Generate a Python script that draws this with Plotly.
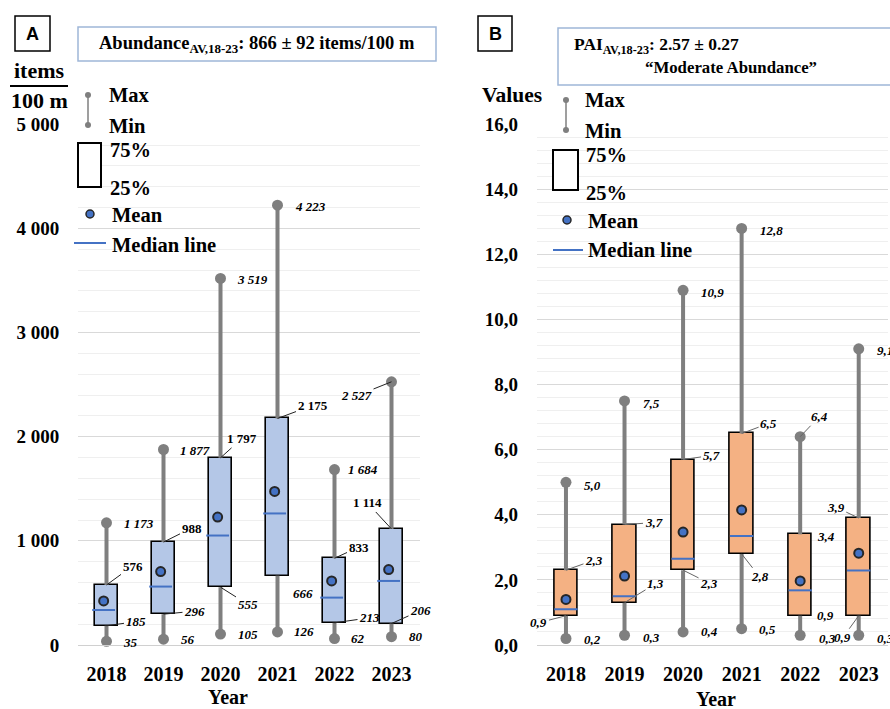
import plotly.graph_objects as go

# ---------------- data ----------------
years = ["2018", "2019", "2020", "2021", "2022", "2023"]

ab_min = [35, 56, 105, 126, 62, 80]
ab_q1 = [185, 296, 555, 666, 213, 206]
ab_median = [336, 561, 1051, 1263, 455, 615]
ab_mean = [423, 705, 1228, 1474, 615, 724]
ab_q3 = [576, 988, 1797, 2175, 833, 1114]
ab_max = [1173, 1877, 3519, 4223, 1684, 2527]

pai_min = [0.2, 0.3, 0.4, 0.5, 0.3, 0.3]
pai_q1 = [0.9, 1.3, 2.3, 2.8, 0.9, 0.9]
pai_median = [1.10, 1.50, 2.65, 3.35, 1.68, 2.29]
pai_mean = [1.40, 2.12, 3.47, 4.15, 1.97, 2.82]
pai_q3 = [2.3, 3.7, 5.7, 6.5, 3.4, 3.9]
pai_max = [5.0, 7.5, 10.9, 12.8, 6.4, 9.1]

ab_tickvals = [0, 1000, 2000, 3000, 4000, 5000]
ab_ticktext = ["0", "1 000", "2 000", "3 000", "4 000", "5 000"]
pai_tickvals = [0, 2, 4, 6, 8, 10, 12, 14, 16]
pai_ticktext = ["0,0", "2,0", "4,0", "6,0", "8,0", "10,0", "12,0", "14,0", "16,0"]

# ---------------- label layout (pixel offsets) ----------------
# (leader?, dx, dy) per year for keys max, q3, q1, min ; dy screen-down positive
ab_lab = {
    "max": [(0, 15, 1), (0, 14, 1), (0, 14, 1), (0, 15, 1), (0, 11, 0), (1, -35, 14)],
    "q3": [(1, 26, -19), (1, 28, -14), (1, 21, -19), (1, 35, -13), (1, 24, -11), (1, -24, -26)],
    "q1": [(1, 29, -4), (1, 31, -3), (1, 27, 17), (0, 13, 18), (1, 35, -5), (1, 29, -13)],
    "min": [(0, 14, 1), (0, 15, 0), (0, 15, 0), (0, 14, 0), (0, 14, 0), (0, 15, 0)],
}
pai_lab = {
    "max": [(0, 16, 3), (0, 16, 3), (0, 16, 2), (0, 16, 2), (1, 19, -20), (0, 16, 2)],
    "q3": [(1, 28, -10), (1, 29, -2), (1, 28, -4), (1, 27, -10), (0, 15, 2), (1, -23, -11)],
    "q1": [(1, -27, 7), (1, 31, -19), (1, 26, 13), (1, 18, 23), (0, 15, 0), (1, -16, 22)],
    "min": [(0, 16, 1), (0, 16, 2), (0, 16, 0), (0, 15, 1), (0, 17, 3), (0, 16, 3)],
}

W, H = 890, 709
SERIF = "Liberation Serif"
GRAY = "#7f7f7f"
BLUE = "#4472C4"


def px(x):
    return x / W


def py(y):
    return 1 - y / H


def fmt_ab(v):
    return f"{v:,}".replace(",", " ")


def fmt_pai(v):
    return f"{v:.1f}".replace(".", ",")


fig = go.Figure()

panels = [
    dict(xa="x", ya="y", mn=ab_min, q1=ab_q1, med=ab_median, mean=ab_mean, q3=ab_q3, mx=ab_max,
         fill="#B4C7E7", off=-0.05, lab=ab_lab, fmt=fmt_ab, q3_italic=False, leadcol="#222222"),
    dict(xa="x2", ya="y2", mn=pai_min, q1=pai_q1, med=pai_median, mean=pai_mean, q3=pai_q3, mx=pai_max,
         fill="#F4B183", off=0.0, lab=pai_lab, fmt=fmt_pai, q3_italic=True, leadcol="#666666"),
]

annotations = []
for p in panels:
    idx = list(range(len(years)))
    wx, wy = [], []
    for i in idx:
        wx += [i, i, None, i, i, None]
        wy += [p["mn"][i], p["q1"][i], None, p["q3"][i], p["mx"][i], None]
    fig.add_trace(go.Scatter(x=wx, y=wy, mode="lines", line=dict(color=GRAY, width=4),
                             xaxis=p["xa"], yaxis=p["ya"], hoverinfo="skip", showlegend=False))
    fig.add_trace(go.Scatter(x=idx + idx, y=p["mn"] + p["mx"], mode="markers",
                             marker=dict(color=GRAY, size=11), cliponaxis=False,
                             xaxis=p["xa"], yaxis=p["ya"], showlegend=False))
    fig.add_trace(go.Bar(x=idx, y=[b - a for a, b in zip(p["q1"], p["q3"])], base=p["q1"], width=0.4,
                         marker=dict(color=p["fill"], line=dict(color="black", width=1.6)),
                         xaxis=p["xa"], yaxis=p["ya"], showlegend=False))
    mx_, my_ = [], []
    for i in idx:
        mx_ += [i - 0.2 + p["off"], i + 0.2 + p["off"], None]
        my_ += [p["med"][i], p["med"][i], None]
    fig.add_trace(go.Scatter(x=mx_, y=my_, mode="lines", line=dict(color=BLUE, width=2),
                             xaxis=p["xa"], yaxis=p["ya"], showlegend=False))
    fig.add_trace(go.Scatter(x=[i + p["off"] for i in idx], y=p["mean"], mode="markers",
                             marker=dict(color=BLUE, size=9, line=dict(color="#262626", width=2)),
                             xaxis=p["xa"], yaxis=p["ya"], showlegend=False))
    # value labels
    for key in ["max", "q3", "q1", "min"]:
        vals = {"max": p["mx"], "q3": p["q3"], "q1": p["q1"], "min": p["mn"]}[key]
        italic = key != "q3" or p["q3_italic"]
        for i in idx:
            lead, dx, dy = p["lab"][key][i]
            font = dict(family=SERIF, size=13, color="black", weight="bold",
                        style="italic" if italic else "normal")
            if lead:
                annotations.append(dict(x=i, y=vals[i], xref=p["xa"], yref=p["ya"], text=p["fmt"](vals[i]),
                                        showarrow=True, arrowhead=0, arrowwidth=1, arrowcolor=p["leadcol"],
                                        ax=dx, ay=dy, standoff=0, font=font))
            else:
                annotations.append(dict(x=i, y=vals[i], xref=p["xa"], yref=p["ya"], text=p["fmt"](vals[i]),
                                        showarrow=False, xanchor="left", yanchor="middle",
                                        xshift=dx, yshift=-dy, font=font))

# ---------------- decorations (paper / pixel space) ----------------
shapes = []


def txt(x, y, s, size=20.5, anchor="left", family=SERIF, bold=True):
    annotations.append(dict(x=px(x), y=py(y), xref="paper", yref="paper", text=s, showarrow=False,
                            xanchor=anchor, yanchor="middle",
                            font=dict(family=family, size=size, color="black",
                                      weight="bold" if bold else "normal")))


def rect(x0, y0, x1, y1, color="black", width=1.5, fill="white"):
    shapes.append(dict(type="rect", xref="paper", yref="paper", x0=px(x0), x1=px(x1), y0=py(y1), y1=py(y0),
                       line=dict(color=color, width=width), fillcolor=fill, layer="above"))


def line(x0, y0, x1, y1, color, width):
    shapes.append(dict(type="line", xref="paper", yref="paper", x0=px(x0), x1=px(x1), y0=py(y0), y1=py(y1),
                       line=dict(color=color, width=width), layer="above"))


def dot(cx, cy, r, color, lcolor=None, lw=0):
    shapes.append(dict(type="circle", xref="paper", yref="paper", x0=px(cx - r), x1=px(cx + r),
                       y0=py(cy + r), y1=py(cy - r), fillcolor=color,
                       line=dict(color=lcolor or color, width=lw), layer="above"))


def legend(x_line, y_max, y_min, tx, box, ty_box, mean_c, tmean, med, tmed):
    line(x_line, y_max, x_line, y_min, GRAY, 1.5)
    dot(x_line, y_max, 3, GRAY)
    dot(x_line, y_min, 3, GRAY)
    txt(tx, y_max, "Max")
    txt(tx, y_min + 1, "Min")
    rect(*box, color="black", width=2)
    txt(ty_box[0], ty_box[1], "75%")
    txt(ty_box[0], ty_box[2], "25%")
    dot(mean_c[0], mean_c[1], 4, BLUE, "#262626", 1.5)
    txt(tmean[0], tmean[1], "Mean")
    line(med[0], med[2], med[1], med[2], BLUE, 2)
    txt(tmed[0], tmed[1], "Median line")


legend(88, 95, 125, 107, (78, 143, 101, 187), (108, 150, 188), (90, 214), (110, 215), (74, 106, 243), (110, 245))
legend(566, 100, 130, 583, (553, 150, 578, 190), (584, 155, 193), (567, 220), (586, 221), (553, 583, 250), (586, 250))

# panel letters
rect(15, 16, 50, 51)
txt(32.5, 33.5, "A", size=18, anchor="center", family="Liberation Sans")
rect(478, 16, 512, 51)
txt(495, 33.5, "B", size=18, anchor="center", family="Liberation Sans")

# title boxes
rect(78, 27, 436, 61, color="#9fb6d8", width=1.5)
txt(257, 44, "Abundance<sub>AV,18-23</sub>: 866 ± 92 items/100 m", size=18.5, anchor="center")
rect(558, 28, 905, 85, color="#9fb6d8", width=1.5)
txt(572, 45, "PAI<sub>AV,18-23</sub>: 2.57 ± 0.27", size=17.5)
txt(643, 68, "“Moderate Abundance”", size=16.8)

# axis titles
txt(39, 71, "items", size=22, anchor="center")
line(10, 86, 68, 86, "black", 2)
txt(39, 100, "100 m", size=22, anchor="center")
txt(512, 95, "Values", size=21.5, anchor="center")
txt(228, 697, "Year", size=20, anchor="center")
txt(716, 699, "Year", size=20, anchor="center")

# ---------------- axes ----------------
ydom = [py(645), py(124)]
xcommon = dict(range=[-0.5, 5.5], tickvals=list(range(len(years))), ticktext=years,
               tickfont=dict(family=SERIF, size=20, color="black", weight="bold"),
               ticks="outside", ticklen=11, tickcolor="rgba(0,0,0,0)", showgrid=False, zeroline=False,
               showline=True, linecolor="#d0d0d0", linewidth=1, automargin=False, fixedrange=True)
ycommon = dict(tickfont=dict(family=SERIF, size=19, color="black", weight="bold"),
               ticks="outside", ticklen=14, tickcolor="rgba(0,0,0,0)", showgrid=True, gridcolor="#d9d9d9",
               gridwidth=1, zeroline=False, showline=False, automargin=False, fixedrange=True, domain=ydom)

fig.update_layout(
    width=W, height=H, margin=dict(l=0, r=0, t=0, b=0), autosize=False,
    paper_bgcolor="white", plot_bgcolor="white", showlegend=False, bargap=0,
    xaxis=dict(domain=[px(78), px(420)], anchor="y", **xcommon),
    xaxis2=dict(domain=[px(536.7), px(888)], anchor="y2", **xcommon),
    yaxis=dict(range=[0, 5002], tickvals=ab_tickvals, ticktext=ab_ticktext, anchor="x",
               minor=dict(tickmode="linear", tick0=0, dtick=200, showgrid=True, gridcolor="#efefef", ticks=""),
               **ycommon),
    yaxis2=dict(range=[0, 16.01], tickvals=pai_tickvals, ticktext=pai_ticktext, anchor="x2",
                minor=dict(tickmode="linear", tick0=0, dtick=0.4, showgrid=True, gridcolor="#efefef", ticks=""),
                **ycommon),
    shapes=shapes, annotations=annotations,
)

fig.write_html("out.html", config={"displayModeBar": False},
               post_script="document.body.style.margin='0';document.body.style.overflow='hidden';")
